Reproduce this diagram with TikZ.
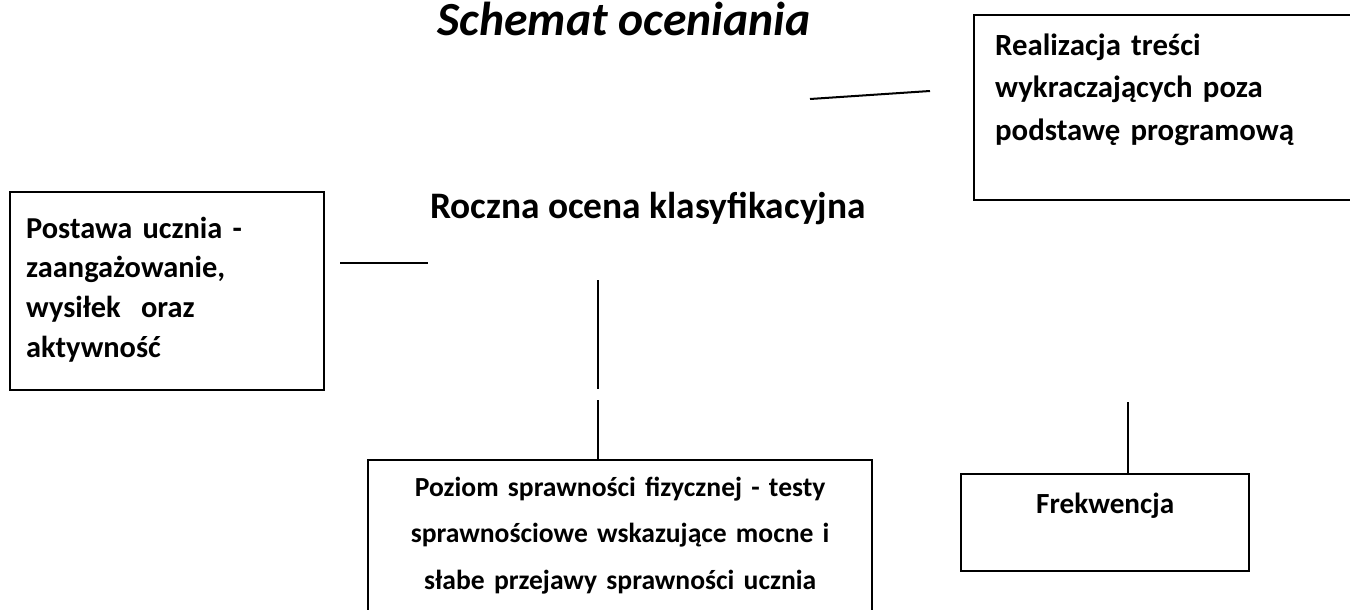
\documentclass[tikz,border=0pt]{standalone}
\usepackage{fontspec}
\setmainfont{Carlito}
\usetikzlibrary{positioning, calc}

\newcommand{\boxfont}[2]{\bfseries\fontsize{#1}{#2}\selectfont}

\begin{document}
\begin{tikzpicture}[x=0.5pt, y=-0.5pt, line width=1pt,
	box/.style={draw, line width=1.2pt, anchor=north west, inner ysep=0pt}]
	\useasboundingbox (0,0) rectangle (1350,610);

	\node[anchor=base, font=\bfseries\itshape\fontsize{23.8}{28}\selectfont] (title) at (624,36) {Schemat oceniania};
	\node[anchor=base, font=\bfseries\fontsize{18.7}{23}\selectfont] (roczna) at (648,219) {Roczna ocena klasyfikacyjna};

	\node[box, font=\boxfont{15.4}{21.25}, text width=200pt, align=left, inner xsep=10.5pt,
		text height=20pt, text depth=72.5pt] (tresci) at (973,14)
		{Realizacja treści\\wykraczających poza\\podstawę programową};
	\node[box, font=\boxfont{15.2}{19.8}, text width=141pt, align=left, inner xsep=8pt,
		text height=23pt, text depth=76pt] (postawa) at (9,191)
		{Postawa ucznia -\\zaangażowanie,\\wysiłek~ oraz\\aktywność};
	\node[box, font=\boxfont{13.8}{23.3}, text width=242pt, align=center, inner xsep=5pt,
		text height=18pt, text depth=72.5pt] (poziom) at (367,459)
		{Poziom sprawności fizycznej - testy\\sprawnościowe wskazujące mocne i\\słabe przejawy sprawności ucznia};
	\node[box, font=\boxfont{14.6}{22}, text width=134pt, align=center, inner xsep=5pt,
		text height=19.5pt, text depth=29pt] (frek) at (960,473) {Frekwencja};

	\coordinate (pa) at (340,263);
	\coordinate (pb) at (428,263);
	\coordinate (ta) at (810,99);
	\coordinate (tb) at (930,91);
	\coordinate (va) at (598,280);
	\coordinate (vb) at (598,389);
	\coordinate (wa) at (598,400);
	\coordinate (fa) at (1128,402);

	\foreach \from/\to in {pa/pb, ta/tb, va/vb}
		\draw (\from) -- (\to);
	\draw (wa) -- (wa |- poziom.north);
	\draw (fa) -- (fa |- frek.north);
\end{tikzpicture}
\end{document}
